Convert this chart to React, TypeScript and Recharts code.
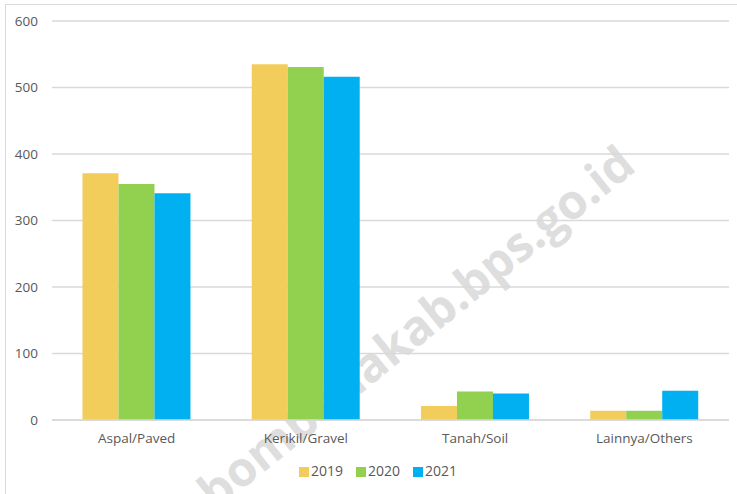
import { BarChart, Bar, XAxis, YAxis, CartesianGrid, Legend } from 'recharts'

const categories = ['Aspal/Paved', 'Kerikil/Gravel', 'Tanah/Soil', 'Lainnya/Others']
const values2019 = [371, 535, 21, 14]
const values2020 = [355, 531, 43, 14]
const values2021 = [341, 516, 40, 44]
const yTicks = [0, 100, 200, 300, 400, 500, 600]

const data = categories.map((name, i) => ({
  name,
  y2019: values2019[i],
  y2020: values2020[i],
  y2021: values2021[i],
}))

const font = '"Open Sans", "Noto Sans", sans-serif'
const textColor = '#595959'

export default function App() {
  return (
    <div style={{ position: 'absolute', left: 0, top: 0, width: 737, height: 494, overflow: 'hidden', background: '#fff' }}>
      <div
        style={{
          position: 'absolute',
          left: 5,
          top: 4,
          width: 760,
          height: 520,
          border: '1.5px solid #d9d9d9',
        }}
      />
      {/* watermark, sits behind the bars */}
      <div
        style={{
          position: 'absolute',
          left: 415,
          top: 326,
          transform: 'translate(-50%, -50%) rotate(-39deg)',
          fontFamily: font,
          fontWeight: 700,
          fontSize: 48,
          color: '#dedede',
          whiteSpace: 'nowrap',
        }}
      >
        bombanakab.bps.go.id
      </div>
      <div style={{ position: 'absolute', left: 0, top: 0 }}>
        <BarChart
          width={737}
          height={494}
          data={data}
          margin={{ top: 21, right: 8, left: 0, bottom: 44 }}
          barCategoryGap="18%"
          barGap={0}
          style={{ fontFamily: font }}
        >
          <CartesianGrid vertical={false} stroke="#d9d9d9" strokeWidth={1.5} />
          <XAxis
            dataKey="name"
            axisLine={{ stroke: '#d9d9d9', strokeWidth: 1.5 }}
            tickLine={false}
            tickSize={0}
            tickMargin={13}
            tick={{ fill: textColor, fontSize: 13.5 }}
          />
          <YAxis
            width={52}
            domain={[0, 600]}
            ticks={yTicks}
            axisLine={false}
            tickLine={false}
            tickSize={0}
            tickMargin={14}
            tick={{ fill: textColor, fontSize: 13.5 }}
          />
          <Legend
            verticalAlign="middle"
            align="center"
            iconType="square"
            iconSize={10}
            wrapperStyle={{ top: 461, left: 16, width: 737, fontSize: 14 }}
            formatter={(v: string) => (
              <span style={{ color: textColor, marginLeft: -2, marginRight: 3 }}>{v}</span>
            )}
          />
          <Bar dataKey="y2019" name="2019" fill="#F2CD5C" isAnimationActive={false} />
          <Bar dataKey="y2020" name="2020" fill="#92D050" isAnimationActive={false} />
          <Bar dataKey="y2021" name="2021" fill="#00B0F0" isAnimationActive={false} />
        </BarChart>
      </div>
    </div>
  )
}
